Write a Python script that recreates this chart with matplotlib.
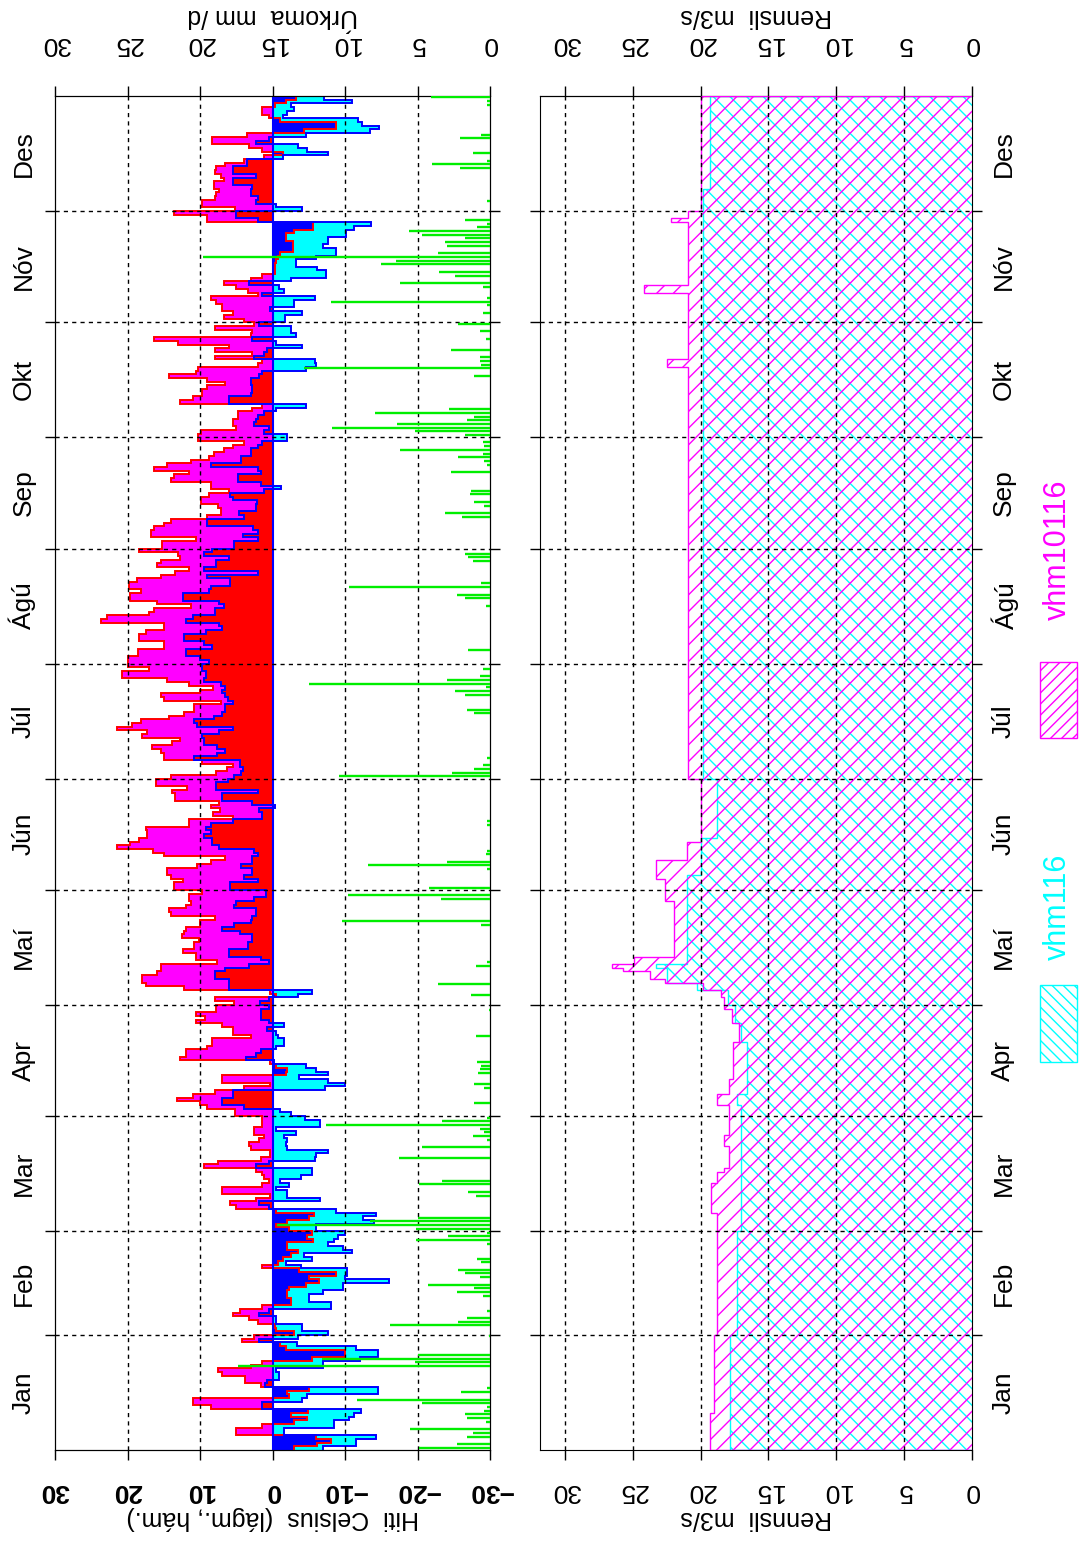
import numpy as np
import matplotlib
matplotlib.use('Agg')
import matplotlib.pyplot as plt
from matplotlib.patches import Rectangle

plt.rcParams['font.family'] = ['Liberation Sans', 'DejaVu Sans']
plt.rcParams['hatch.linewidth'] = 1.0

months = ['Jan', 'Feb', 'Mar', 'Apr', 'Maí', 'Jún', 'Júl', 'Ágú', 'Sep', 'Okt', 'Nóv', 'Des']
month_starts = [0, 31, 59, 90, 120, 151, 181, 212, 243, 273, 304, 334, 365]

# daily max / min temperature, deg C
tmax = [
    -3, -6.2, -8, -6, 5, 5, 1.4, -3, -4.8, -2.5, -4.9, 8.5, 11, 11, -2.3, -2, -5, 1.6, 3.8, 3.8,
    6.9, 7.5, 3, 1.4, -5.5, -10, -10, -1.8, -1, 4.2, 2.5, -3, -0.5, -0.3, 2, 3.2, 5.5, 4.5, 1.5, -2.5,
    -2.5, -2, -2, -2.3, -4.6, -6.4, -5, -8.7, -3.6, 1.5, -0.8, -1.5, -2.5, -3.5, -2, -2, -5.6, -4.8, -5.4, -2.3,
    -0.5, -2, -5, -5.7, -0.5, 5, 5.8, 2.3, 0.3, 6.9, 6.9, 1.4, 0.5, 1.2, 1.5, 2.3, 9.4, 7.5, 1.6, 0.3,
    0.3, 3, 3.2, 1.8, 1.2, 2.5, 2.5, 1.4, 1.4, 1.4, 5.2, 5.2, 9, 10, 13.2, 11, 8, 4, 0.3, 6.9,
    6.9, -1.8, -2, -0.5, 0.3, 12.7, 12, 12, 9, 8.3, 8.3, 3, 5.5, 5.5, 6.9, 10.6, 9.3, 10.6, 7.8, 7.8,
    5.3, 8, -0.5, 0.3, 12.2, 17.5, 18, 18, 15.9, 15.4, 15.4, 7.6, 10.6, 10.6, 12.4, 10.8, 10.8, 10.1, 12.5, 12.2,
    12, 10, 10, 8, 14, 14.3, 12, 11.3, 11.5, 11.5, 9.7, 13.6, 13.6, 12.4, 14, 14.5, 14.5, 10.4, 8.5, 6.5,
    14.9, 16.5, 21.4, 19.6, 18.4, 17.3, 17.3, 17.5, 11.5, 11.5, 5.5, 8.2, 7.2, 8.5, 7.4, 13.4, 13.4, 13.8, 11.8, 16.1,
    16.1, 14, 7.8, 6.3, 5.5, 9.7, 15, 15, 15.4, 16.6, 13.8, 12.7, 18, 17.3, 21.4, 19.4, 18.2, 14.3, 12.2, 10.8,
    10.8, 7.1, 15, 15.4, 10, 8.2, 11.5, 14.5, 20.7, 20.7, 17, 20, 20, 20, 18.5, 18.5, 15, 15, 18.4, 18.4,
    17.5, 15, 15, 23.7, 22.8, 17, 16.4, 11.3, 16, 19.6, 19.6, 18.2, 19.8, 19.8, 18.7, 15.4, 13.4, 11.5, 15.9, 15.4,
    12.7, 13, 18.4, 15.2, 15.2, 10.6, 16.8, 16.8, 16.4, 15, 14, 9, 7.1, 7.1, 7.5, 9.9, 9.9, 8.8, 6, 8.5,
    8.5, 14, 13.6, 11.5, 16.4, 14.5, 11.3, 8.8, 8.1, 6.7, 5.5, 4, 10.3, 10.3, 9.9, 5, 5.5, 5.5, 4.8, 4.8,
    2.8, 1.4, 12.7, 11, 9.7, 9.7, 9, 6.5, 9, 14.3, 10.6, 10.3, 2, 1.4, 8, 2.8, 8, 6, 13, 16.4,
    3, 2.8, 8, 2.5, 3.9, 6.7, 5.5, 6.9, 6.9, 7.8, 8.5, 2, 3.4, 5, 6.7, 3, 1.4, -0.3, -0.3, -0.3,
    -0.5, -0.8, -1, -2.8, -2.8, -2.8, -1.8, -1.8, -3, -5.6, -5.6, 9, 9, 13.6, 5.2, 9.7, 9.7, 8, 7.8, 7.4,
    8.1, 8.1, 6.7, 7.1, 8, 7.8, 6.5, 4, 1.2, -1.4, 1.5, 3.3, 8.3, 8.3, 3.5, -4.4, -8.8, -8.8, -1, 0.5,
    1.5, 1.5, -0.3, -1.8, -3.2,
]
tmin = [
    -7, -11.5, -11.5, -14.3, -1.6, -1.6, -8.5, -8.5, -10.6, -11.2, -12.2, 1.4, 1.4, -4, -4.8, -14.5, -14.5, 1, 0.8, -0.9,
    -0.9, -0.5, -7, -7, -12, -14.5, -14.5, -11.5, -3.4, 1.8, -3.5, -7.6, -4, -4, -0.5, -0.5, 1.8, 0.5, -8, -8,
    -5, -5, -7, -9.7, -9.7, -16, -10, -10.3, -10.3, -3.9, -1.8, -5.5, -4.4, -11, -9.7, -7.6, -8.5, -9, -10, -6,
    -6, -14, -12.5, -14.3, -8.8, 0.5, 1.8, -6.6, -2, -2, -0.5, -2.3, -1, -3.9, -5.5, -5.5, 2.3, 0.5, -5.8, -6,
    -7.6, -2, -1.8, -2, -1.6, -3.2, -0.5, -6.5, -6.5, -4.5, -2.5, -1, 4, 6.9, 6.9, 5.5, 5.5, -7.3, -10, -7.6,
    -3.7, -7.6, -6, -4.6, -0.2, 3.7, 2.3, 1.6, -0.5, -1.6, -1.6, -0.8, -0.5, 0.7, -1.6, 0.5, 1.6, 1.6, 1.6, 0.5,
    1.7, 0.5, -3.5, -5.5, 6, 6, 6, 8, 8, 6.5, 3.2, 0.5, 1.6, 6, 6, 3.4, 3.4, 2.8, 2.8, 4.5,
    7, 5.3, 3, 2.8, 2.3, 2.3, 5.3, 5, 2.5, 0.9, 0.9, 5.8, 5.8, 2, 3.9, 2.8, 2.8, 4.4, 2.8, 2.8,
    2, 2.5, 7.4, 8.3, 8.3, 9.4, 8.5, 9.2, 8.5, 5.5, 1.4, 1.4, 1.8, -0.3, 2.8, 6.9, 6.9, 2, 7.8, 7.8,
    6.1, 5.3, 4.4, 4.1, 4.5, 4.5, 10.8, 7.6, 6.5, 7.6, 9.4, 9.4, 9.7, 7.4, 5.5, 10.4, 10.8, 8.1, 6.9, 6.5,
    6.5, 5.5, 6.2, 6.5, 6.9, 6.5, 7.1, 9.4, 9.2, 9.2, 9.7, 9.7, 8.8, 10, 12, 12, 8.3, 9.4, 12.2, 12.2,
    9.2, 6.9, 7.4, 12, 11, 8, 8, 6.7, 7.4, 12.4, 12.4, 8.8, 8.5, 5.8, 5.8, 9, 2, 9.4, 7.8, 7.8,
    6, 9.4, 8.3, 5.3, 5.3, 2, 4.1, 2, 2.7, 9, 9, 3.9, 4.6, 2.3, 2.3, 2.1, 5.5, 5.8, 1.2, -1.2,
    1.6, 4.8, 4.8, 1.6, 2, 8.5, 4.4, 4.4, 3, 3, 2, 1.4, -2, -2, 1.2, 0.5, 2.5, 2.3, 2, 1.2,
    -0.5, -4.6, 6, 6, 3, 2.8, 2.8, 3, 3, 1.8, 1.4, -4.6, -6, -5.8, 2.5, 1.2, 0.7, -4.1, -0.5, 2.8,
    -3.2, -2.5, -2.5, 1.8, -1.7, -1.7, -4.1, 0.3, -3, -3, -5.8, 1.5, -1.6, -0.9, 3.2, -2.5, -7.4, -7.4, -6.2, -3.2,
    -3.2, -6, -8.8, -8.8, -6.9, -7.6, -7.6, -10.1, -10.1, -11.3, -13.6, 2, 5, 5, -4.1, -0.5, 2.3, 2, 3, 3,
    2.8, 5.5, 5.5, 2.3, 5.5, 5.5, 3.5, 3.5, -1.5, -7.7, -4.8, -3.5, 2.3, 0.5, -4.6, -13.5, -14.7, -12.4, -11.8, -1.5,
    -2, -3, -2.5, -11, -7.1,
]

# precipitation, mm/d (only wet days)
rain_day = [0, 1, 3, 4, 5, 7, 8, 9, 10, 11, 12, 13, 15, 16, 22, 23, 24, 25, 30, 33, 34, 35, 37, 41, 42, 43, 44, 46, 47, 48,
            50, 51, 55, 56, 57, 58, 59, 60, 61, 62, 68, 69, 71, 72, 78, 81, 83, 84, 85, 86, 87, 88, 89, 93, 97, 98, 101,
            102, 103, 104, 111, 118, 122, 125, 130, 131, 141, 142, 148, 149, 151, 156, 157, 158, 160, 161, 168, 169,
            181, 182, 183, 184, 186, 198, 199, 203, 204, 205, 206, 207, 208, 210, 215, 227, 229, 230, 232, 233, 239,
            240, 241, 251, 252, 254, 255, 257, 258, 263, 265, 266, 267, 268, 269, 270, 271, 273, 274, 275, 276, 277,
            278, 279, 280, 289, 291, 292, 293, 294, 296, 299, 301, 303, 306, 308, 309, 310, 313, 314, 316, 317, 319,
            320, 321, 322, 324, 325, 326, 327, 328, 329, 330, 331, 336, 345, 346, 347, 349, 353, 354, 362, 363, 364]
rain_mm = [4.9, 2.3, 1.6, 1.2, 5.5, 0.3, 1.6, 1.7, 0.4, 0.2, 4.7, 9.2, 2.0, 0.2, 17.4, 5.2, 11.6, 5.0, 0.1, 6.9, 2.2, 1.6,
           0.2, 0.5, 2.3, 1.1, 4.3, 0.7, 1.7, 2.2, 0.6, 0.9, 0.2, 5.1, 2.9, 0.2, 5.1, 14.7, 8.3, 5.0, 1.0, 1.5, 4.9, 3.3,
           6.3, 4.7, 0.2, 1.2, 0.4, 0.7, 11.3, 3.3, 0.2, 1.1, 0.4, 1.1, 0.8, 0.7, 0.6, 0.9, 1.0, 0.1, 1.3, 3.6, 1.0,
           0.2, 0.6, 10.2, 3.4, 9.8, 4.2, 0.2, 8.4, 3.0, 0.3, 0.2, 0.2, 0.2, 10.4, 2.6, 1.1, 0.5, 0.2, 1.1, 1.6, 1.7,
           2.4, 0.3, 12.5, 3.0, 0.7, 0.5, 1.5, 0.3, 1.7, 2.3, 9.7, 0.6, 1.2, 1.5, 1.7, 1.9, 3.1, 0.4, 1.1, 1.4, 1.3,
           2.7, 0.2, 0.4, 2.2, 0.5, 6.2, 0.4, 0.5, 1.7, 5.2, 10.9, 6.4, 1.6, 1.1, 7.9, 2.8, 1.1, 12.8, 0.6, 0.7, 0.7,
           2.7, 0.3, 0.7, 2.2, 0.5, 0.2, 11.0, 0.2, 0.5, 6.2, 2.4, 3.5, 7.5, 6.5, 19.8, 3.6, 3.0, 3.1, 1.7, 4.7, 5.6,
           0.9, 0.2, 1.7, 0.2, 2.1, 4.0, 0.2, 1.2, 2.1, 0.6, 0.2, 0.2, 4.1]

# daily discharge m3/s, given as steps (first day of each step, value)
vhm116_start = [0, 31, 59, 93, 96, 110, 115, 120, 124, 126, 130, 131, 148, 155, 165, 181, 340]
vhm116 = [17.8, 17.3, 17.0, 17.3, 16.6, 17.0, 17.5, 18.0, 20.3, 22.5, 23.3, 21.0, 21.0, 20.0, 18.8, 19.8, 19.3]
vhm10116_start = [0, 10, 31, 64, 72, 75, 76, 82, 85, 93, 96, 100, 110, 115, 119, 122, 124, 126, 127, 129, 130,
                  131, 133, 148, 154, 159, 164, 181, 292, 294, 312, 314, 331, 332, 334]
vhm10116 = [19.3, 19.0, 18.8, 19.2, 18.8, 18.3, 17.9, 18.3, 17.9, 18.8, 17.9, 17.6, 17.2, 17.7, 18.3, 18.5, 19.8,
            22.6, 23.7, 25.7, 26.5, 24.9, 22.0, 22.6, 23.3, 21.0, 20.0, 20.9, 22.5, 20.9, 24.2, 20.9, 22.2, 20.9, 20.0]

GRID = dict(color='black', lw=1.0, ls=(0, (3, 3)))
LABEL_SIZE = 19


def expand(starts, vals):
    return np.repeat(vals, np.diff(starts + [365]))


def month_axis(ax, side):
    centers = [(a + b) / 2 for a, b in zip(month_starts[:-1], month_starts[1:])]
    ax.set_ylim(0, 365)
    ax.set_yticks(centers)
    ax.set_yticklabels(months, rotation=90, va='center', fontsize=LABEL_SIZE)
    ax.set_yticks(month_starts[1:-1], minor=True)
    ax.tick_params(axis='y', which='major', length=0, pad=14,
                   left=(side == 'left'), labelleft=(side == 'left'),
                   right=(side == 'right'), labelright=(side == 'right'))
    ax.tick_params(axis='y', which='minor', direction='out', length=7, width=1, left=True, right=True)
    for m in month_starts[1:-1]:
        ax.axhline(m, zorder=6, **GRID)


def value_ticks(axis, ticks, bold=False):
    axis.set_xticks(ticks)
    labels = [str(t).replace('-', '\u2212') for t in ticks]
    axis.set_xticklabels(labels, rotation=180, fontsize=LABEL_SIZE,
                         fontweight='bold' if bold else 'normal')


fig = plt.figure(figsize=(10.81, 15.41), dpi=100)
W, H = 1081, 1541
ax = fig.add_axes([55 / W, 1 - 1450 / H, 435 / W, 1354 / H])
ax2 = fig.add_axes([540 / W, 1 - 1450 / H, 432 / W, 1354 / H])

# temperature panel
edges = np.arange(366)
tmax = np.array(tmax)
tmin = np.array(tmin)
ax.stairs(np.where(tmax > 0, tmax, 0), edges, orientation='horizontal', fill=True, color='#ff00ff', zorder=2)
ax.stairs(np.where(tmin < 0, tmin, 0), edges, orientation='horizontal', fill=True, color='#00ffff', zorder=2)
ax.stairs(np.where(tmin > 0, tmin, 0), edges, orientation='horizontal', fill=True, color='#ff0000', zorder=3)
ax.stairs(np.where(tmax < 0, tmax, 0), edges, orientation='horizontal', fill=True, color='#0000ff', zorder=3)
ax.stairs(tmax, edges, orientation='horizontal', baseline=None, color='#ff0000', lw=1.4, zorder=4)
ax.stairs(tmin, edges, orientation='horizontal', baseline=None, color='#0000ff', lw=1.4, zorder=4)
ax.axvline(0, color='#0000ff', lw=1.5, zorder=4)
for t in [20, 10, -10, -20]:
    ax.axvline(t, zorder=6, **GRID)
ax.set_xlim(30, -30)
value_ticks(ax, [30, 20, 10, 0, -10, -20, -30], bold=True)
ax.tick_params(axis='x', direction='out', length=7, width=1, pad=14, top=False)
ax.set_xlabel('Hiti  Celsius  (lágm., hám.)', rotation=180, fontsize=18, labelpad=2)
month_axis(ax, 'left')

axp = ax.twiny()
axp.set_xlim(30, 0)
axp.hlines(np.array(rain_day) + 0.6, 0, rain_mm, color='#00ee00', lw=1.7, zorder=5)
value_ticks(axp, [30, 25, 20, 15, 10, 5, 0])
axp.tick_params(axis='x', direction='out', length=7, width=1, pad=22)
axp.set_xlabel('Úrkoma  mm /d', rotation=180, fontsize=18, labelpad=6)
axp.set_ylim(0, 365)

# discharge panel
ax2.stairs(expand(vhm116_start, vhm116), edges, orientation='horizontal', fill=True,
           facecolor='none', edgecolor='#00ffff', hatch='\\\\', lw=1.0, zorder=2)
ax2.stairs(expand(vhm10116_start, vhm10116), edges, orientation='horizontal', fill=True,
           facecolor='none', edgecolor='#ff00ff', hatch='//', lw=1.0, zorder=3)
for q in [5, 10, 15, 20, 25, 30]:
    ax2.axvline(q, zorder=6, **GRID)
ax2.set_xlim(31.84, 0)
value_ticks(ax2, [30, 25, 20, 15, 10, 5, 0])
ax2.tick_params(axis='x', direction='out', length=7, width=1, pad=14, top=False)
ax2.set_xlabel('Rennsli  m3/s', rotation=180, fontsize=18, labelpad=2)
ax2t = ax2.secondary_xaxis('top')
value_ticks(ax2t, [30, 25, 20, 15, 10, 5, 0])
ax2t.tick_params(axis='x', direction='out', length=7, width=1, pad=22)
ax2t.set_xlabel('Rennsli  m3/s', rotation=180, fontsize=18, labelpad=6)
month_axis(ax2, 'right')

# legend
for y0, y1, col, hat in [(985, 1062, '#00ffff', '\\\\\\'), (662, 738, '#ff00ff', '///')]:
    fig.add_artist(Rectangle((1040 / W, 1 - y1 / H), 37 / W, (y1 - y0) / H, transform=fig.transFigure,
                             facecolor='none', edgecolor=col, hatch=hat, lw=1.0))
for name, col, yc in [('vhm116', '#00ffff', 907), ('vhm10116', '#ff00ff', 550)]:
    fig.text(1058 / W, 1 - yc / H, name, rotation=90, color=col, ha='center', va='center', fontsize=22)

fig.savefig('out.png', dpi=100)
